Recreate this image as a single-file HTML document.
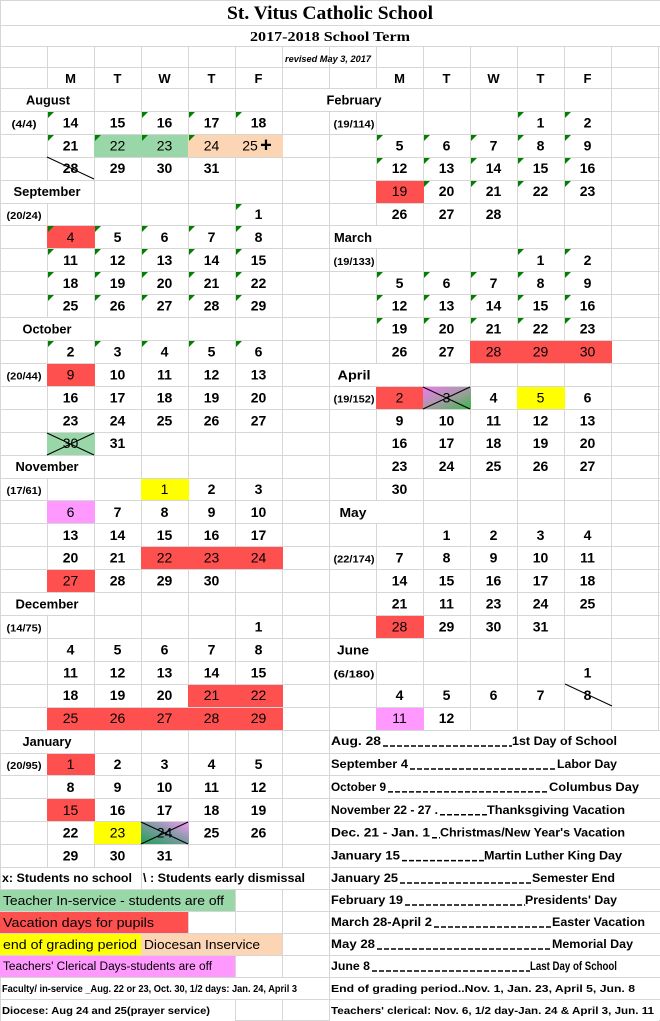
<!DOCTYPE html>
<html><head><meta charset="utf-8">
<style>
html,body{margin:0;padding:0;background:#fff;width:660px;height:1021px;overflow:hidden}
svg{display:block}
</style></head>
<body>
<svg id="s" xmlns="http://www.w3.org/2000/svg" width="660" height="1021" viewBox="0 0 660 1021"></svg>
<script>
(function(){
function rtop(r){if(r===-3)return 0;if(r===-2)return 25;if(r===-1)return 46;if(r===0)return 67;if(r<=35)return 88+22.914*(r-1);return 867+22*(r-35);}
function rbot(r){return r>=41?1021:rtop(r+1);}
var o=[];
var G='#d6d6d6';
for(var r=-3;r<=42;r++){var y=(r===42?1020.5:Math.round(rtop(r))+0.5);o.push('<line x1="0" x2="660" y1="'+y+'" y2="'+y+'" stroke="'+G+'"/>');}
for(var c=0;c<=14;c++){var x=47*c+0.5;o.push('<line x1="'+x+'" x2="'+x+'" y1="0" y2="1021" stroke="'+G+'"/>');}
function rect(x1,x2,r,col){var y1=Math.round(rtop(r))+1,y2=Math.round(rbot(r));o.push('<rect x="'+x1+'" y="'+y1+'" width="'+(x2-x1)+'" height="'+(y2-y1)+'" fill="'+(col||'#fff')+'"/>');}
rect(1,659,-3);rect(1,659,-2);
[1,5,11,17,23,29].forEach(function(r){rect(1,94,r);});
[1,7,13,19,25].forEach(function(r){rect(330,423,r);});
rect(283,423,1);
rect(1,141,35);rect(142,329,35);
rect(1,329,40);rect(1,235,41);
for(var r2=29;r2<=41;r2++)rect(330,659,r2);
var RED='#ff5050',GR='#99d7a8',PE='#fcd5b4',YE='#ffff00',PK='#ff99ff';
var F=[['L',3,2,GR],['L',3,3,GR],['L',3,4,PE],['L',3,5,PE],['L',7,1,RED],['L',13,1,RED],['L',16,1,GR],['L',18,3,YE],['L',19,1,PK],['L',21,3,RED],['L',21,4,RED],['L',21,5,RED],['L',22,1,RED],['L',27,4,RED],['L',27,5,RED],['L',28,1,RED],['L',28,2,RED],['L',28,3,RED],['L',28,4,RED],['L',28,5,RED],['L',30,1,RED],['L',32,1,RED],['L',33,2,YE],['L',33,3,'url(#g2)'],
['R',5,1,RED],['R',12,3,RED],['R',12,4,RED],['R',12,5,RED],['R',14,1,RED],['R',14,2,'url(#g1)'],['R',14,4,YE],['R',24,1,RED],['R',28,1,PK]];
o.push('<defs><linearGradient id="g1" x1="0" y1="0" x2="1" y2="1"><stop offset="0" stop-color="#f07af0"/><stop offset="0.5" stop-color="#a89aa8"/><stop offset="1" stop-color="#3cb84a"/></linearGradient><linearGradient id="g2" x1="0" y1="1" x2="1" y2="0"><stop offset="0" stop-color="#1fa055"/><stop offset="0.5" stop-color="#7a9aa0"/><stop offset="1" stop-color="#f29af2"/></linearGradient></defs>');
function cx0(s,c){return (s==='L'?0:329)+47*c;}
F.forEach(function(f){var x=cx0(f[0],f[2]);rect(x,x+48,f[1],f[3]);});
rect(0,235,36,GR);rect(0,188,37,RED);rect(0,141,38,YE);rect(141,282,38,PE);rect(0,235,39,PK);
function tri(s,r,c){var x=cx0(s,c)+1,y=Math.round(rtop(r))+1;o.push('<polygon points="'+x+','+y+' '+(x+6)+','+y+' '+x+','+(y+6)+'" fill="#008000"/>');}
[[2,[1,3,4,5]],[3,[1,2,3,4]],[6,[5]],[7,[1,2,3,4,5]],[8,[1,2,3,4,5]],[9,[1,2,3,4,5]],[10,[1,2,3,4,5]],[12,[1,2,3,4,5]]].forEach(function(a){a[1].forEach(function(c){tri('L',a[0],c);});});
[[2,[4,5]],[3,[1,2,3,4,5]],[4,[1,2,3,4,5]],[5,[2,3,4,5]],[8,[4,5]],[9,[1,2,3,4,5]],[10,[1,2,3,4,5]],[11,[1,2,3,4,5]]].forEach(function(a){a[1].forEach(function(c){tri('R',a[0],c);});});
function X(s,r,c){var x=cx0(s,c),y1=Math.round(rtop(r))+1,y2=Math.round(rbot(r));o.push('<line x1="'+x+'" y1="'+y1+'" x2="'+(x+47)+'" y2="'+y2+'" stroke="#000"/><line x1="'+x+'" y1="'+y2+'" x2="'+(x+47)+'" y2="'+y1+'" stroke="#000"/>');}
X('L',16,1);X('L',33,3);X('R',14,2);
o.push('<line x1="47" y1="157" x2="94" y2="179" stroke="#000"/>');
o.push('<line x1="565" y1="684" x2="612" y2="706" stroke="#000"/>');
function T(x,y,t,st,anchor,len){o.push('<text x="'+x+'" y="'+y+'"'+(anchor?' text-anchor="'+anchor+'"':'')+(len?' textLength="'+len+'" lengthAdjust="spacingAndGlyphs"':'')+' style="'+st+'">'+t+'</text>');}
function mid(r){return (rtop(r)+rbot(r))/2;}
var NUM="font:bold 14px 'Liberation Sans',Arial,sans-serif";
var NUMR="font:14px 'Liberation Sans',Arial,sans-serif";
var fillSet={};F.forEach(function(f){fillSet[f[0]+f[1]+'_'+f[2]]=1;});
T(330,19,'St. Vitus Catholic School',"font:bold 19px 'Liberation Serif',serif",'middle',206);
T(330,41,'2017-2018 School Term',"font:bold 14px 'Liberation Serif',serif",'middle',160);
T(328,62,'revised May 3, 2017',"font:italic bold 9px 'Liberation Sans',sans-serif",'middle',86);
var HS="font:bold 13px 'Liberation Sans',sans-serif";
['M','T','W','T','F'].forEach(function(d,i){T(47*(i+1)+23.5,83,d,HS,'middle');T(329+47*(i+1)+23.5,83,d,HS,'middle');});
var MS="font:bold 13px 'Liberation Sans',sans-serif";
[[1,'August',48,44],[5,'September',47,67],[11,'October',47,49],[17,'November',47,63],[23,'December',47,63],[29,'January',47,49]].forEach(function(m){T(m[2],mid(m[0])+5,m[1],MS,'middle',m[3]);});
[[1,'February',354,55],[7,'March',353,38],[13,'April',354,33],[19,'May',353,27],[25,'June',353,32]].forEach(function(m){T(m[2],mid(m[0])+5,m[1],MS,'middle',m[3]);});
var LR={2:['(4/4)','14','15','16','17','18'],3:['','21','22','23','24',''],4:['','28','29','30','31',''],6:['(20/24)','','','','','1'],7:['','4','5','6','7','8'],8:['','11','12','13','14','15'],9:['','18','19','20','21','22'],10:['','25','26','27','28','29'],12:['','2','3','4','5','6'],13:['(20/44)','9','10','11','12','13'],14:['','16','17','18','19','20'],15:['','23','24','25','26','27'],16:['','30','31','','',''],18:['(17/61)','','','1','2','3'],19:['','6','7','8','9','10'],20:['','13','14','15','16','17'],21:['','20','21','22','23','24'],22:['','27','28','29','30',''],24:['(14/75)','','','','','1'],25:['','4','5','6','7','8'],26:['','11','12','13','14','15'],27:['','18','19','20','21','22'],28:['','25','26','27','28','29'],30:['(20/95)','1','2','3','4','5'],31:['','8','9','10','11','12'],32:['','15','16','17','18','19'],33:['','22','23','24','25','26'],34:['','29','30','31','','']};
var RR={2:['(19/114)','','','','1','2'],3:['','5','6','7','8','9'],4:['','12','13','14','15','16'],5:['','19','20','21','22','23'],6:['','26','27','28','',''],8:['(19/133)','','','','1','2'],9:['','5','6','7','8','9'],10:['','12','13','14','15','16'],11:['','19','20','21','22','23'],12:['','26','27','28','29','30'],14:['(19/152)','2','3','4','5','6'],15:['','9','10','11','12','13'],16:['','16','17','18','19','20'],17:['','23','24','25','26','27'],18:['','30','','','',''],20:['','','1','2','3','4'],21:['(22/174)','7','8','9','10','11'],22:['','14','15','16','17','18'],23:['','21','11','23','24','25'],24:['','28','29','30','31',''],26:['(6/180)','','','','','1'],27:['','4','5','6','7','8'],28:['','11','12','','','']};
var CS="font:bold 10px 'Liberation Sans',sans-serif";
function rows(D,s){for(var k in D){var r=+k,a=D[k],y=mid(r)+5;if(a[0]){var w=a[0].length>6?(s==='L'?35:41):25;T((s==='L'?24:354),y,a[0],CS,'middle',w);}for(var c=1;c<=5;c++){if(a[c]){T(cx0(s,c)+23.5,y,a[c],fillSet[s+r+'_'+c]?NUMR:NUM,'middle');}}}}
rows(LR,'L');rows(RR,'R');
T(250,mid(3)+5,'25',NUMR,'middle');
T(266,mid(3)+6,'+',"font:bold 20px 'Liberation Sans',sans-serif",'middle');
var LB="font:bold 12px 'Liberation Sans',sans-serif";
var RG="font:13px 'Liberation Sans',sans-serif";
var SB="font:bold 10.5px 'Liberation Sans',sans-serif";
T(2,mid(35)+4,'x: Students no school',LB,null,130);
T(143,mid(35)+4,'\\ : Students early dismissal',LB,null,162);
T(3,mid(36)+5,'Teacher In-service - students are off',RG,null,221);
T(3,mid(37)+5,'Vacation days for pupils',RG,null,151);
T(3,mid(38)+5,'end of grading period',RG,null,134);
T(144,mid(38)+5,'Diocesan Inservice',RG,null,116);
T(3,mid(39)+4,"Teachers' Clerical Days-students are off","font:11.5px 'Liberation Sans',sans-serif",null,209);
T(2,mid(40)+4,'Faculty/ in-service _Aug. 22 or 23, Oct. 30, 1/2 days: Jan. 24, April 3',SB,null,295);
T(2,mid(41)+4,'Diocese: Aug 24 and 25(prayer service)',SB,null,208);
var RL=[[29,'Aug. 28',381,512,'1st Day of School',617],[30,'September 4',408,557,'Labor Day',617],[31,'October 9',386,549,'Columbus Day',639],[32,'November 22 - 27 .',438,487,'Thanksgiving Vacation',625],[33,'Dec. 21 - Jan. 1',430,440,"Christmas/New Year's Vacation",625],[34,'January 15',400,484,'Martin Luther King Day',622],[35,'January 25',398,532,'Semester End',615],[36,'February 19',403,525,"Presidents' Day",617],[37,'March 28-April 2',432,552,'Easter Vacation',645],[38,'May 28',375,552,'Memorial Day',633],[39,'June 8',370,530,'Last Day of School',617]];
RL.forEach(function(a){var y=mid(a[0])+4;T(331,y,a[1],LB,null,a[2]-331);T(a[3],y,a[4],LB,null,a[5]-a[3]);o.push('<line x1="'+(a[2]+2)+'" x2="'+a[3]+'" y1="'+(y+1)+'" y2="'+(y+1)+'" stroke="#000" stroke-width="1.5" stroke-dasharray="5,2"/>');});
T(331,mid(40)+4,'End of grading period..Nov. 1, Jan. 23, April 5, Jun. 8',SB,null,304);
T(331,mid(41)+4,"Teachers' clerical: Nov. 6, 1/2 day-Jan. 24 &amp; April 3, Jun. 11",SB,null,323);
document.getElementById('s').innerHTML=o.join('');
})();
</script>
</body></html>
